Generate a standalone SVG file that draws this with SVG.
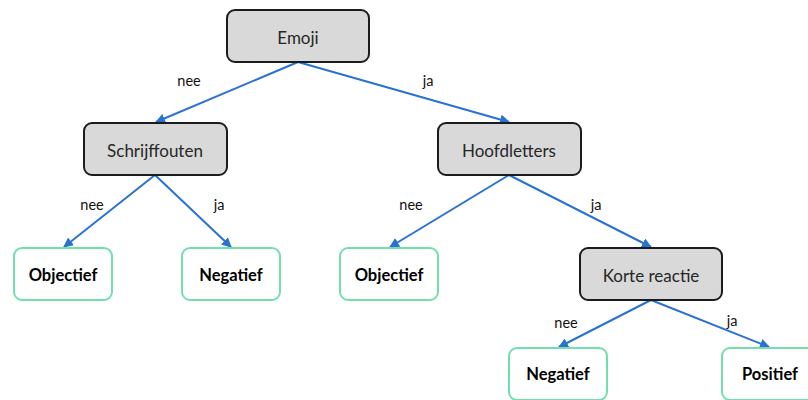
<svg xmlns="http://www.w3.org/2000/svg" width="808" height="400" viewBox="0 0 808 400">
  <defs>
    <marker id="arrow" viewBox="0 0 10 10" refX="9" refY="5" markerWidth="5" markerHeight="5" orient="auto-start-reverse" markerUnits="strokeWidth">
      <path d="M0,0 L10,5 L0,10 z" fill="#2a72d2"/>
    </marker>
    <style>
      .dec rect { fill: #d9d9d9; stroke: #1c1c1c; stroke-width: 2; }
      .leaf rect { fill: #ffffff; stroke: #72e0ac; stroke-width: 2; }
      .dec text { font-family: Lato, "Open Sans", "Liberation Sans", sans-serif; font-size: 17px; fill: #262626; text-anchor: middle; dominant-baseline: central; }
      .leaf text { font-family: Lato, "Open Sans", "Liberation Sans", sans-serif; font-size: 16.5px; font-weight: bold; fill: #000; text-anchor: middle; dominant-baseline: central; }
      .edges line { stroke: #2a72d2; stroke-width: 2; marker-end: url(#arrow); }
      .lbl { font-family: Lato, "Open Sans", "Liberation Sans", sans-serif; font-size: 14.5px; fill: #111; text-anchor: middle; dominant-baseline: central; }
    </style>
  </defs>
  <rect width="808" height="400" fill="#ffffff"/>

  <g class="edges">
    <line x1="298" y1="62" x2="156" y2="122"/>
    <line x1="298" y1="62" x2="509" y2="122"/>
    <line x1="155" y1="175" x2="64" y2="247"/>
    <line x1="155" y1="175" x2="231" y2="247"/>
    <line x1="509" y1="175" x2="390" y2="247"/>
    <line x1="509" y1="175" x2="651" y2="247"/>
    <line x1="651" y1="300" x2="559" y2="347"/>
    <line x1="651" y1="300" x2="769" y2="347"/>
    <text class="lbl" x="189" y="80">nee</text>
    <text class="lbl" x="428" y="80">ja</text>
    <text class="lbl" x="92" y="204">nee</text>
    <text class="lbl" x="219" y="204">ja</text>
    <text class="lbl" x="411" y="204">nee</text>
    <text class="lbl" x="596" y="204">ja</text>
    <text class="lbl" x="566" y="322">nee</text>
    <text class="lbl" x="732" y="320">ja</text>
  </g>

  <g id="emoji" class="dec">
    <rect x="227" y="10" width="142" height="52" rx="8"/>
    <text x="298" y="37">Emoji</text>
  </g>
  <g id="schrijffouten" class="dec">
    <rect x="84" y="123" width="143" height="52" rx="8"/>
    <text x="155" y="150">Schrijffouten</text>
  </g>
  <g id="hoofdletters" class="dec">
    <rect x="438" y="123" width="143" height="52" rx="8"/>
    <text x="509" y="150">Hoofdletters</text>
  </g>
  <g id="korte-reactie" class="dec">
    <rect x="580" y="248" width="142" height="52" rx="8"/>
    <text x="651" y="275">Korte reactie</text>
  </g>

  <g id="objectief-1" class="leaf">
    <rect x="14" y="248" width="98" height="52" rx="8"/>
    <text x="63" y="275">Objectief</text>
  </g>
  <g id="negatief-1" class="leaf">
    <rect x="182" y="248" width="98" height="52" rx="8"/>
    <text x="231" y="275">Negatief</text>
  </g>
  <g id="objectief-2" class="leaf">
    <rect x="340" y="248" width="98" height="52" rx="8"/>
    <text x="389" y="275">Objectief</text>
  </g>
  <g id="negatief-2" class="leaf">
    <rect x="509" y="348" width="98" height="52" rx="8"/>
    <text x="558" y="374">Negatief</text>
  </g>
  <g id="positief" class="leaf">
    <rect x="722" y="348" width="98" height="52" rx="8"/>
    <text x="770" y="374">Positief</text>
  </g>
</svg>
